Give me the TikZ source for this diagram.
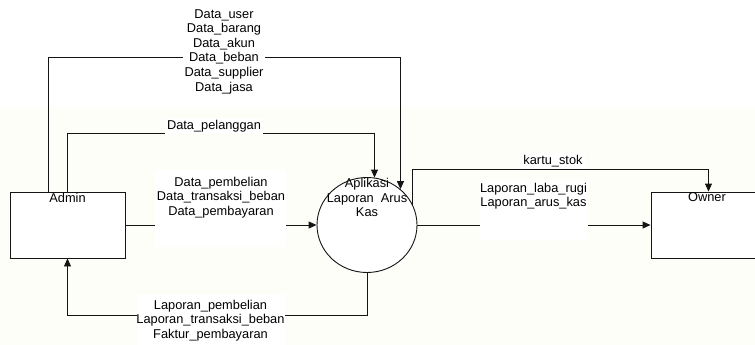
\documentclass[tikz,border=0pt]{standalone}
\usepackage{fontspec}
\setmainfont{Liberation Sans}
\usetikzlibrary{arrows.meta,shapes.geometric}
\definecolor{bgtint}{RGB}{254,254,249}
\definecolor{ink}{RGB}{20,20,20}
\tikzset{
  entity/.style={draw=ink,line width=0.9pt,fill=white,rectangle,minimum width=115pt,minimum height=66pt,inner sep=0pt},
  proc/.style={draw=ink,line width=0.9pt,fill=white,ellipse,minimum width=100pt,minimum height=95pt,inner sep=0pt},
  txt/.style={align=center,inner sep=0pt},
  lbl/.style={align=center,fill=white,inner sep=2pt},
  lblbox/.style={fill=white,inner sep=0pt,rectangle},
  flow/.style={draw=ink,line width=0.9pt,-{Triangle[length=8pt,width=7pt]}},
  line/.style={draw=ink,line width=0.9pt}
}
\begin{document}
\begin{tikzpicture}[x=1pt,y=-1pt,font=\fontsize{12.8}{14.6}\selectfont]
\useasboundingbox (0,0) rectangle (755,345);
\clip (0,0) rectangle (755,345);
\fill[white] (0,0) rectangle (755,107);
\fill[bgtint] (0,107) rectangle (755,345);

% nodes
\node[entity] (admin) at (67.5,225) {};
\node[txt] (admint) at (67.5,197.5) {Admin};
\node[proc] (c) at (367,225) {};
\node[entity] (owner) at (708.5,225) {};
\node[txt] (ownert) at (707,197.5) {Owner};

% connectors
\draw[flow] ([xshift=-19pt]admin.north) -- ++(0,-134) -| (c.47);
\draw[flow] (admin.north) -- ++(0,-58) -| (c.81.5);
\draw[flow] (admin.east) -- (c.west);
\draw[flow] (c.south) -- ++(0,42.5) -| (admin.south);
\draw[flow] (c.east) -- (owner.west);
\draw[flow] (c.24.7) |- ([yshift=22pt]owner.north) -- (owner.north);

% circle text (drawn over arrows)
\node[txt] (ct) at (367,197.5) {Aplikasi\\Laporan\ \ Arus\\Kas};

% labels
\node[lbl] (l1) at (224,51.5) {Data\_user\\Data\_barang\\Data\_akun\\Data\_beban\\Data\_supplier\\Data\_jasa};
\node[lbl] (l2) at (214,126) {Data\_pelanggan};
\node[lblbox,minimum width=131pt,minimum height=77pt] (b3) at (220.5,208.5) {};
\node[txt] (l3) at (221,197.5) {Data\_pembelian\\Data\_transaksi\_beban\\Data\_pembayaran};
\node[lblbox,minimum width=148pt,minimum height=56pt] (b4) at (211,322) {};
\node[txt] (l4) at (210.5,320.5) {Laporan\_pembelian\\Laporan\_transaksi\_beban\\Faktur\_pembayaran};
\node[lblbox,minimum width=108pt,minimum height=60pt] (b5) at (534,210) {};
\node[txt] (l5) at (533.5,196) {Laporan\_laba\_rugi\\Laporan\_arus\_kas};
\node[lbl] (l6) at (553,161) {kartu\_stok};
\end{tikzpicture}
\end{document}
